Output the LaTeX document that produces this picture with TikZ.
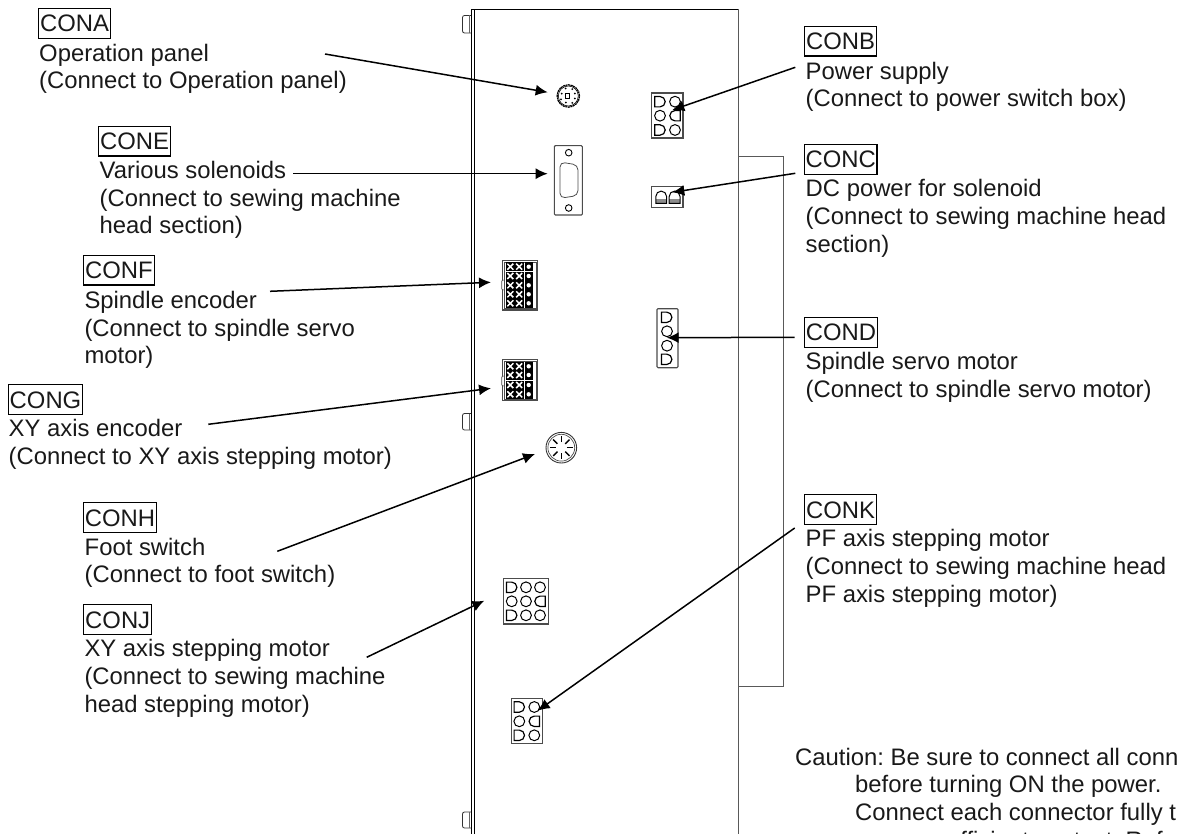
\documentclass[tikz,border=0pt]{standalone}
\usepackage{fontspec}
\setmainfont{Liberation Sans}
\usetikzlibrary{arrows.meta}
\tikzset{
  lab/.style={anchor=north west,inner sep=0pt,align=left,font=\fontsize{23.85}{27.6}\selectfont\frenchspacing,text=black!90},
  head/.style={draw=black,line width=1.4pt,inner sep=0pt,text height=17pt,text depth=0pt,font=\fontsize{23.85}{27.6}\selectfont,text=black!90},
  arr/.style={line width=1.5pt,-{Latex[length=12pt,width=11pt]}},
  wall/.style={line width=1.2pt,draw=black},
  wallg/.style={line width=1.2pt,draw=black!65},
  cbox/.style={line width=1.1pt,draw=black!70},
  pin/.style={line width=1.2pt,draw=black},
}
\newcommand{\Dc}[2]{\draw[pin] (#1-5.2,#2-5.2) -- (#1,#2-5.2) arc[start angle=90,end angle=-90,radius=5.2pt] -- (#1-5.2,#2+5.2) -- cycle;}
\newcommand{\Df}[2]{\draw[pin] (#1+5.2,#2-5.2) -- (#1,#2-5.2) arc[start angle=90,end angle=270,radius=5.2pt] -- (#1+5.2,#2+5.2) -- cycle;}
\newcommand{\Oc}[2]{\draw[pin,line width=1pt] (#1,#2) circle[radius=5.4pt];}
\newcommand{\Xc}[2]{\fill[black] (#1-4.7,#2-4.5) rectangle (#1+4.7,#2+4.5);
  \draw[white,line width=1.5pt] (#1-3,#2-3) -- (#1+3,#2+3) (#1-3,#2+3) -- (#1+3,#2-3);}
\newcommand{\Sc}[2]{\fill[black] (#1-4.2,#2-4.5) rectangle (#1+4.2,#2+4.5);
  \fill[white] (#1,#2) circle[radius=2.2pt];}
\newcommand{\Tab}[2]{\draw[line width=.8pt,draw=black!80,rounded corners=2pt] (471,#1) -- (462.5,#1) -- (462.5,#2) -- (471,#2);
  \draw[line width=.8pt,draw=black!60] (469,#1) -- (469,#2);}
\newcommand{\Lab}[4]{\node[lab] (#1) at (#2,#3-18) {\rule{0pt}{18pt}#4};}
\newcommand{\Head}[6]{\node[head,minimum width=#4pt,minimum height=#5pt] (#1) at (#2,#3) {#6};}
\begin{document}
\begin{tikzpicture}[x=1pt,y=-1pt]
\useasboundingbox (0,0) rectangle (1177,834);
\clip (0,0) rectangle (1177,834);
% panel
\draw[wall] (471.5,840) -- (471.5,9.5) -- (738.5,9.5);
\draw[wall] (474.7,9.5) -- (474.7,840);
\draw[wallg] (738.5,9.5) -- (738.5,840);
\draw[line width=1pt,draw=black!65] (738.5,156.7) -- (783,156.7) -- (783,686.7) -- (738.5,686.7);
\Tab{15.5}{33}
\Tab{413.5}{430}
\Tab{812}{828}
% CONA port
\draw[line width=1.2pt,dash pattern=on 2pt off .6pt] (568.3,96) circle[radius=11.2pt];
\draw[line width=.6pt] (568.3,96) circle[radius=10pt];
\draw[line width=.8pt] (565.5,93.5) rectangle (569,98);
\foreach \a/\r in {20/7,60/8,110/8,160/7,205/8,250/7,300/8,340/7}
  \fill[black] (568.3,96) ++(\a:\r pt) circle[radius=1pt];
% CONB port
\draw[cbox] (651.7,93) rectangle (683,138);
\Dc{660}{101.7}\Oc{675}{101.7}
\Oc{660}{115.7}\Df{675}{115.7}
\Dc{660}{130}\Oc{675}{130}
% CONC port
\draw[cbox] (651.7,186.7) rectangle (683,207.3);
\foreach \x in {661.2,674.6}{
  \fill[black!45] (\x-5.4,199) rectangle (\x+5.4,203.5);
  \draw[pin,line width=1pt] (\x-5.4,203.5) -- (\x-5.4,196.5) arc[start angle=180,end angle=0,radius=5.4pt] -- (\x+5.4,203.5) -- cycle;
}
% CONE port
\draw[cbox,rounded corners=1pt] (554.3,145.7) rectangle (582.3,215);
\foreach \y in {152.7,208}{
  \draw[line width=.9pt] (568.7,\y) circle[radius=3.3pt];
}
\draw[line width=.8pt,draw=black!70,rounded corners=5pt] (560,162) -- (578,165) -- (578,195.5) -- (560,198.3) -- cycle;
% CONF port
\draw[cbox] (502.3,260.3) rectangle (537.7,310);
\draw[line width=.6pt,black!70] (504,262) rectangle (536,308.5);
\fill[white] (501.5,280) rectangle (503.5,290);
\draw[line width=.7pt,black!70] (503.5,280) -- (501.8,281) -- (501.8,289) -- (503.5,290);
\foreach \y in {266.7,276,285.3,294.3,303.3}{
  \Xc{510.3}{\y}\Xc{519.2}{\y}\Sc{528.7}{\y}
}
% CONG port
\draw[cbox] (502.3,359.3) rectangle (537.7,400.7);
\draw[line width=.6pt,black!70] (504,361) rectangle (536,399);
\fill[white] (501.5,376) rectangle (503.5,386);
\draw[line width=.7pt,black!70] (503.5,376) -- (501.8,377) -- (501.8,385) -- (503.5,386);
\foreach \y in {366.3,375,385,394.3}{
  \Xc{510.3}{\y}\Xc{519.2}{\y}\Sc{528.7}{\y}
}
% COND port
\draw[cbox,rounded corners=1pt] (657,308.7) rectangle (678,367.7);
\Dc{666.7}{317.3}\Oc{667}{331.3}\Oc{667}{345.7}\Dc{666.7}{359.3}
% CONH port
\draw[line width=.9pt,black!80] (561.3,447.7) circle[radius=15.3pt];
\draw[line width=.7pt,black!70] (561.3,447.7) circle[radius=13.4pt];
\foreach \a in {0,45,90,135,180,225,270,315}
  \draw[line width=1.4pt] (561.3,447.7) ++(\a:5.5pt) -- ++(\a:6pt);
% CONJ port
\draw[cbox] (503.3,578.7) rectangle (548.7,624);
\Dc{511.7}{587.3}\Oc{526}{587.3}\Oc{540}{587.3}
\Oc{511.7}{601.3}\Oc{526}{601.3}\Df{540}{601.3}
\Dc{511.7}{615.3}\Oc{526}{615.3}\Oc{540}{615.3}
% CONK port
\draw[cbox] (511.3,698.7) rectangle (542.3,743.7);
\Dc{519.3}{707}\Oc{534.3}{707}
\Oc{519.3}{721.3}\Df{534.3}{721.3}
\Dc{519.3}{735.3}\Oc{534.3}{735.3}
% labels
\Head{hA}{74.5}{23.5}{71.6}{29.6}{CONA}
\Lab{tA}{39}{61}{Operation panel\\(Connect to Operation panel)}
\Head{hE}{134.5}{141.3}{71.6}{29.3}{CONE}
\Lab{tE}{99.5}{178.3}{Various solenoids\\(Connect to sewing machine\\head section)}
\Head{hF}{119}{270.3}{70.6}{29.3}{CONF}
\Lab{tF}{84.3}{308.3}{Spindle encoder\\(Connect to spindle servo\\motor)}
\Head{hG}{45.5}{399.5}{73.6}{29.6}{CONG}
\Lab{tG}{8.5}{436.7}{XY axis encoder\\(Connect to XY axis stepping motor)}
\Head{hH}{120}{517.5}{72.6}{29.6}{CONH}
\Lab{tH}{84.5}{555}{Foot switch\\(Connect to foot switch)}
\Head{hJ}{117.7}{619.5}{68}{29.6}{CONJ}
\Lab{tJ}{84.3}{656.7}{XY axis stepping motor\\(Connect to sewing machine\\head stepping motor)}
\Head{hB}{840.5}{41.3}{71.6}{29.3}{CONB}
\Lab{tB}{805.5}{79}{Power supply\\(Connect to power switch box)}
\Head{hC}{840.8}{159.3}{72.3}{30}{CONC}
\Lab{tC}{805.5}{196.7}{DC power for solenoid\\(Connect to sewing machine head\\section)}
\Head{hD}{841}{332.3}{72.6}{30}{COND}
\Lab{tD}{805.5}{369.3}{Spindle servo motor\\(Connect to spindle servo motor)}
\Head{hK}{840.5}{509.5}{71.6}{29.6}{CONK}
\Lab{tK}{805.5}{546.7}{PF axis stepping motor\\(Connect to sewing machine head\\PF axis stepping motor)}
\Lab{c1}{795}{765}{Caution: Be sure to connect all conn}
\Lab{c2}{855}{792.6}{before turning ON the power.}
\Lab{c3}{855}{820.2}{Connect each connector fully t}
\Lab{c4}{935}{847.8}{sufficient contact. Ref}
% connector ends
\coordinate (sA) at (325,54);      \coordinate (eA) at (547.7,92.3);
\coordinate (sE) at (293.3,173.7); \coordinate (eE) at (547.7,173.7);
\coordinate (sF) at (270,291.3);   \coordinate (eF) at (491,282.3);
\coordinate (sG) at (208.3,424.3); \coordinate (eG) at (491,388.3);
\coordinate (sH) at (277.3,551.3); \coordinate (eH) at (535,454);
\coordinate (sJ) at (366.7,657.3); \coordinate (eJ) at (484.3,600.7);
\coordinate (sB) at (795.3,67.3);  \coordinate (eB) at (672.3,110);
\coordinate (sC) at (795.3,173.3); \coordinate (eC) at (672.3,192.3);
\coordinate (sD) at (794.7,337.3); \coordinate (eD) at (666.7,337.7);
\coordinate (sK) at (794.7,528);   \coordinate (eK) at (537.7,710.7);
\foreach \n in {A,E,F,G,H,J,B,C,D,K}
  \draw[arr] (s\n) -- (e\n);
\end{tikzpicture}
\end{document}
